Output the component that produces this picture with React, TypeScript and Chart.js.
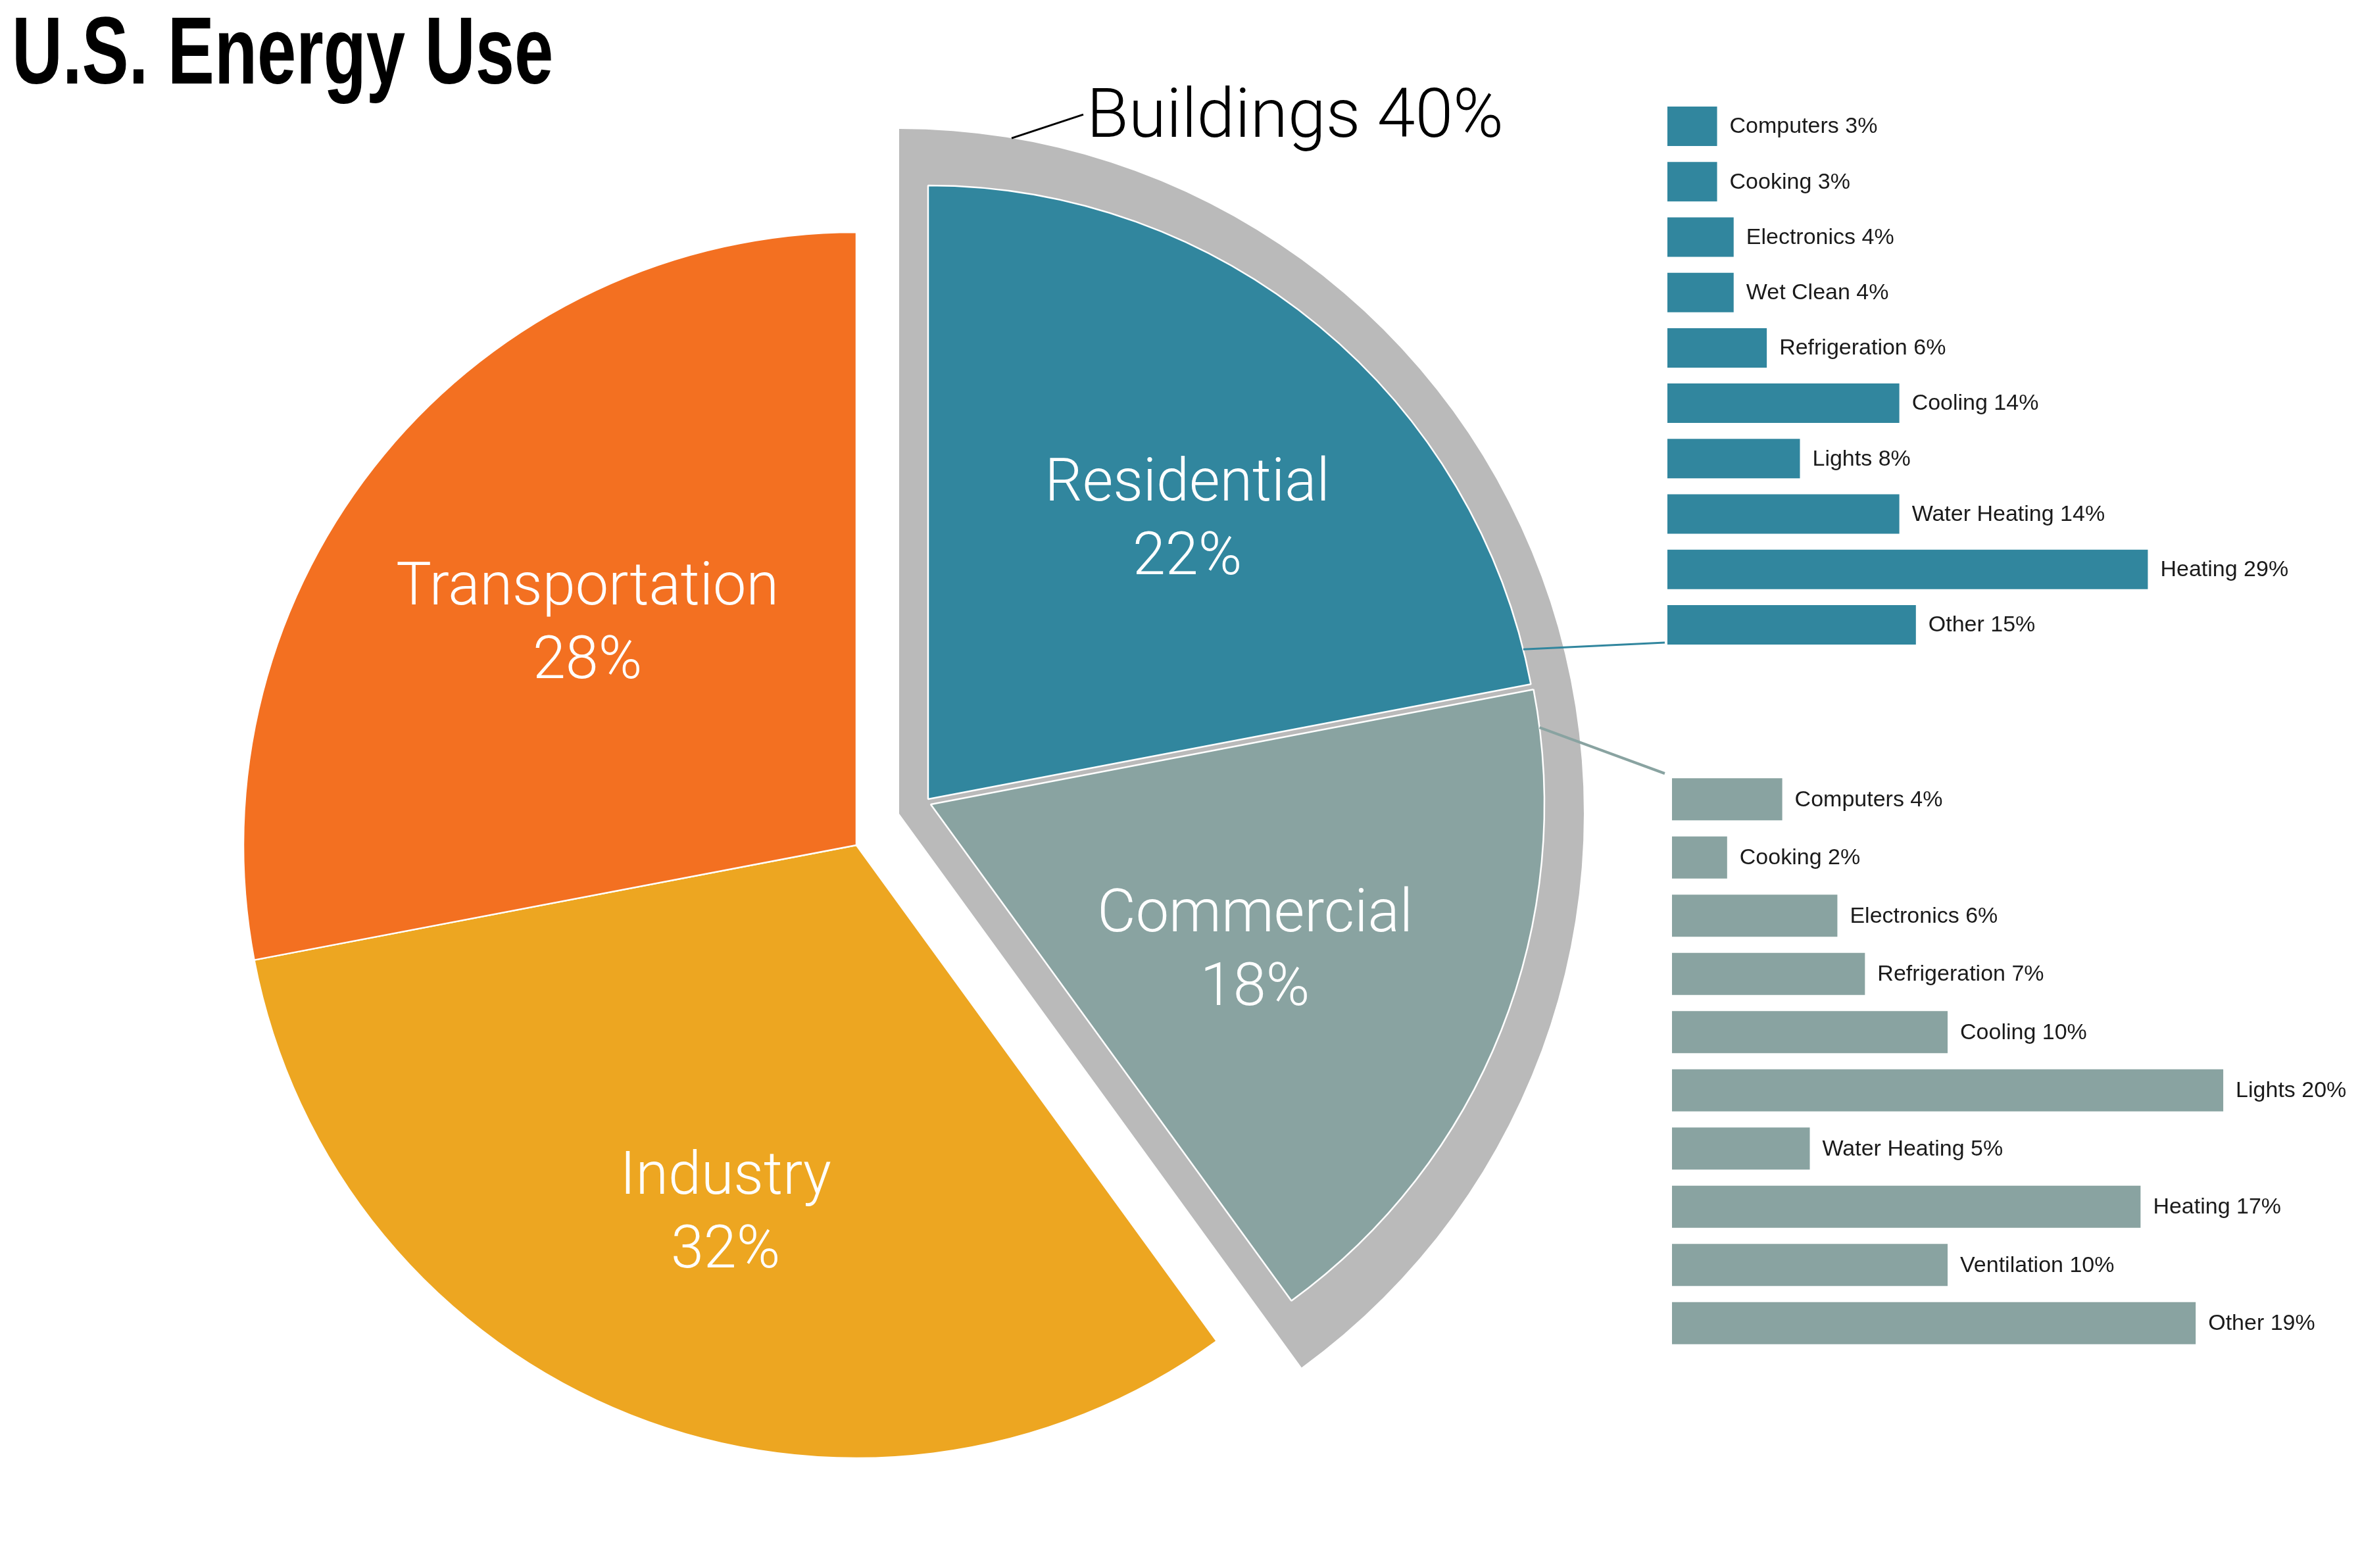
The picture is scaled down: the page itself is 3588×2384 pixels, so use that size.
import React, { useEffect, useRef } from 'react';
import { Chart, registerables } from 'chart.js';

Chart.register(...registerables);

// ---------------- data ----------------
const chartTitle = 'U.S. Energy Use';

const sectorLabels = ['Residential', 'Commercial', 'Industry', 'Transportation'];
const sectorShares = [22, 18, 32, 28];

const buildingsLabel = 'Buildings';
const buildingsShare = 40;

const residentialUses = ['Computers', 'Cooking', 'Electronics', 'Wet Clean', 'Refrigeration', 'Cooling', 'Lights', 'Water Heating', 'Heating', 'Other'];
const residentialShares = [3, 3, 4, 4, 6, 14, 8, 14, 29, 15];

const commercialUses = ['Computers', 'Cooking', 'Electronics', 'Refrigeration', 'Cooling', 'Lights', 'Water Heating', 'Heating', 'Ventilation', 'Other'];
const commercialShares = [4, 2, 6, 7, 10, 20, 5, 17, 10, 19];

// ---------------- style / layout ----------------
const PAGE_W = 3588;
const PAGE_H = 2384;
const PIE_W = 2600;

const C_TRANS = '#F37021';
const C_IND = '#EDA621';
const C_RES = '#31869E';
const C_COM = '#89A3A1';
const C_BLDG = '#BABABA';
const NONE = 'rgba(0,0,0,0)';

const MAIN = { cx: 1302, cy: 1285, r: 932 };
const BLDG = { cx: 1367, cy: 1237, r: 1041 };
const RES = { cx: 1411, cy: 1215, r: 933 };
const COM = { cx: 1415, cy: 1223, r: 933 };

const RES_BARS = { left: 2535, top: 150, pitch: 84.2, pxPerPct: 25.2, barFrac: 0.713, xMax: 32, labelSpace: 220 };
const COM_BARS = { left: 2542, top: 1171, pitch: 88.5, pxPerPct: 41.9, barFrac: 0.723, xMax: 21, labelSpace: 160 };

const RES_LINK_END = { x: 2531, y: 977 };
const COM_LINK_END = { x: 2531, y: 1176 };

const SLICE_FONT = '300 90px Roboto, "Liberation Sans", sans-serif';
const SLICE_LINE_GAP = 112;
const SLICE_TEXT_DY = 8;
// label placement: fraction of radius and turn (degrees) from the slice mid-angle
const LABEL_RADIUS = [0.624, 0.578, 0.633, 0.571];
const LABEL_TURN = [3.0, 2.3, -1.9, 0.2];
const BAR_FONT = '34px "Liberation Sans", Arial, sans-serif';
const BAR_LABEL_GAP = 19;
const BLDG_FONT = '300 104px Roboto, "Liberation Sans", sans-serif';

function piePadding(c: { cx: number; cy: number }) {
  const h = Math.floor(Math.min(c.cx, c.cy, PIE_W - c.cx, PAGE_H - c.cy)) - 1;
  return { left: c.cx - h, right: PIE_W - c.cx - h, top: c.cy - h, bottom: PAGE_H - c.cy - h };
}

function arcGeom(chart: any, index: number) {
  const arc = chart.getDatasetMeta(0).data[index];
  return arc.getProps(['x', 'y', 'startAngle', 'endAngle', 'outerRadius'], true);
}

function drawSliceLabel(chart: any, index: number) {
  const g = arcGeom(chart, index);
  const mid = (g.startAngle + g.endAngle) / 2 + (LABEL_TURN[index] * Math.PI) / 180;
  const f = LABEL_RADIUS[index];
  const px = g.x + Math.cos(mid) * g.outerRadius * f;
  const py = g.y + Math.sin(mid) * g.outerRadius * f + SLICE_TEXT_DY;
  const ctx = chart.ctx;
  ctx.save();
  ctx.fillStyle = '#ffffff';
  ctx.font = SLICE_FONT;
  ctx.textAlign = 'center';
  ctx.textBaseline = 'middle';
  ctx.fillText(sectorLabels[index], px, py - SLICE_LINE_GAP / 2);
  ctx.fillText(`${sectorShares[index]}%`, px, py + SLICE_LINE_GAP / 2);
  ctx.restore();
}

function drawLink(chart: any, index: number, angle: number, end: { x: number; y: number }, color: string, width: number) {
  const g = arcGeom(chart, index);
  const sx = g.x + Math.cos(angle) * g.outerRadius;
  const sy = g.y + Math.sin(angle) * g.outerRadius;
  const ctx = chart.ctx;
  ctx.save();
  ctx.strokeStyle = color;
  ctx.lineWidth = width;
  ctx.beginPath();
  ctx.moveTo(sx, sy);
  ctx.lineTo(end.x, end.y);
  ctx.stroke();
  ctx.restore();
}

function pieConfig(c: any, values: number[], colors: string[], borders: number[], plugins: any[]) {
  return {
    type: 'pie',
    data: {
      labels: values.map((_, i) => String(i)),
      datasets: [
        {
          data: values,
          backgroundColor: colors,
          borderColor: '#ffffff',
          borderWidth: borders,
          radius: c.r,
          hoverOffset: 0,
        },
      ],
    },
    options: {
      responsive: false,
      animation: false,
      devicePixelRatio: 1,
      events: [],
      layout: { padding: piePadding(c) },
      plugins: { legend: { display: false }, tooltip: { enabled: false }, title: { display: false } },
    },
    plugins,
  } as any;
}

const barLabelPlugin = {
  id: 'barLabels',
  afterDatasetsDraw(chart: any) {
    const ctx = chart.ctx;
    const meta = chart.getDatasetMeta(0);
    const labels = chart.data.labels;
    const vals = chart.data.datasets[0].data;
    ctx.save();
    ctx.font = BAR_FONT;
    ctx.fillStyle = '#1a1a1a';
    ctx.textAlign = 'left';
    ctx.textBaseline = 'middle';
    meta.data.forEach((bar: any, i: number) => {
      ctx.fillText(`${labels[i]} ${vals[i]}%`, bar.x + BAR_LABEL_GAP, bar.y + 1);
    });
    ctx.restore();
  },
};

function barConfig(labels: string[], values: number[], color: string, spec: any) {
  return {
    type: 'bar',
    data: {
      labels,
      datasets: [
        {
          data: values,
          backgroundColor: color,
          borderWidth: 0,
          barPercentage: spec.barFrac,
          categoryPercentage: 1,
        },
      ],
    },
    options: {
      indexAxis: 'y',
      responsive: false,
      animation: false,
      devicePixelRatio: 1,
      events: [],
      layout: { padding: { left: 0, right: spec.labelSpace, top: 0, bottom: 0 } },
      scales: {
        x: { display: false, min: 0, max: spec.xMax },
        y: { display: false },
      },
      plugins: { legend: { display: false }, tooltip: { enabled: false } },
    },
    plugins: [barLabelPlugin],
  } as any;
}

function barBox(spec: any, n: number) {
  return {
    left: spec.left,
    top: spec.top,
    width: Math.round(spec.xMax * spec.pxPerPct + spec.labelSpace),
    height: Math.round(n * spec.pitch),
  };
}

export default function App() {
  const mainRef = useRef<HTMLCanvasElement>(null);
  const bldgRef = useRef<HTMLCanvasElement>(null);
  const resRef = useRef<HTMLCanvasElement>(null);
  const comRef = useRef<HTMLCanvasElement>(null);
  const resBarRef = useRef<HTMLCanvasElement>(null);
  const comBarRef = useRef<HTMLCanvasElement>(null);

  useEffect(() => {
    const charts: Chart[] = [];

    charts.push(
      new Chart(
        mainRef.current!,
        pieConfig(MAIN, sectorShares, [NONE, NONE, C_IND, C_TRANS], [0, 0, 2.5, 2.5], [
          {
            id: 'mainLabels',
            afterDatasetsDraw(chart: any) {
              drawSliceLabel(chart, 2);
              drawSliceLabel(chart, 3);
            },
          },
        ])
      )
    );

    charts.push(
      new Chart(
        bldgRef.current!,
        pieConfig(BLDG, [buildingsShare, 100 - buildingsShare], [C_BLDG, NONE], [0, 0], [
          {
            id: 'bldgLabel',
            afterDatasetsDraw(chart: any) {
              const g = arcGeom(chart, 0);
              const a = g.startAngle + 0.165;
              const sx = g.x + Math.cos(a) * g.outerRadius;
              const sy = g.y + Math.sin(a) * g.outerRadius;
              const ex = sx + 109;
              const ey = sy - 36;
              const ctx = chart.ctx;
              ctx.save();
              ctx.strokeStyle = '#000';
              ctx.lineWidth = 3;
              ctx.beginPath();
              ctx.moveTo(sx, sy);
              ctx.lineTo(ex, ey);
              ctx.stroke();
              ctx.fillStyle = '#000';
              ctx.font = BLDG_FONT;
              ctx.textAlign = 'left';
              ctx.textBaseline = 'alphabetic';
              ctx.fillText(`${buildingsLabel} ${buildingsShare}%`, ex + 5, ey + 34);
              ctx.restore();
            },
          },
        ])
      )
    );

    charts.push(
      new Chart(
        resRef.current!,
        pieConfig(RES, sectorShares, [C_RES, NONE, NONE, NONE], [2.5, 0, 0, 0], [
          {
            id: 'resLabels',
            afterDatasetsDraw(chart: any) {
              drawSliceLabel(chart, 0);
              const g = arcGeom(chart, 0);
              drawLink(chart, 0, g.endAngle - 0.058, RES_LINK_END, C_RES, 3);
            },
          },
        ])
      )
    );

    charts.push(
      new Chart(
        comRef.current!,
        pieConfig(COM, sectorShares, [NONE, C_COM, NONE, NONE], [0, 2.5, 0, 0], [
          {
            id: 'comLabels',
            afterDatasetsDraw(chart: any) {
              drawSliceLabel(chart, 1);
              const g = arcGeom(chart, 1);
              drawLink(chart, 1, g.startAngle + 0.063, COM_LINK_END, C_COM, 4);
            },
          },
        ])
      )
    );

    charts.push(new Chart(resBarRef.current!, barConfig(residentialUses, residentialShares, C_RES, RES_BARS)));
    charts.push(new Chart(comBarRef.current!, barConfig(commercialUses, commercialShares, C_COM, COM_BARS)));

    return () => charts.forEach((c) => c.destroy());
  }, []);

  const pieStyle: React.CSSProperties = { position: 'absolute', left: 0, top: 0, width: PIE_W, height: PAGE_H };
  const rb = barBox(RES_BARS, residentialUses.length);
  const cb = barBox(COM_BARS, commercialUses.length);

  return (
    <div
      style={{
        position: 'absolute',
        left: 0,
        top: 0,
        width: PAGE_W,
        height: PAGE_H,
        background: '#ffffff',
        overflow: 'hidden',
      }}
    >
      <canvas ref={mainRef} width={PIE_W} height={PAGE_H} style={pieStyle} />
      <canvas ref={bldgRef} width={PIE_W} height={PAGE_H} style={pieStyle} />
      <canvas ref={resRef} width={PIE_W} height={PAGE_H} style={pieStyle} />
      <canvas ref={comRef} width={PIE_W} height={PAGE_H} style={pieStyle} />
      <canvas
        ref={resBarRef}
        width={rb.width}
        height={rb.height}
        style={{ position: 'absolute', left: rb.left, top: rb.top, width: rb.width, height: rb.height }}
      />
      <canvas
        ref={comBarRef}
        width={cb.width}
        height={cb.height}
        style={{ position: 'absolute', left: cb.left, top: cb.top, width: cb.width, height: cb.height }}
      />
      <div
        style={{
          position: 'absolute',
          left: 18,
          top: 6,
          font: 'bold 144px "Liberation Sans", Arial, sans-serif',
          lineHeight: 1,
          transform: 'scaleX(0.74)',
          transformOrigin: 'left top',
          whiteSpace: 'nowrap',
          color: '#000',
        }}
      >
        {chartTitle}
      </div>
    </div>
  );
}
